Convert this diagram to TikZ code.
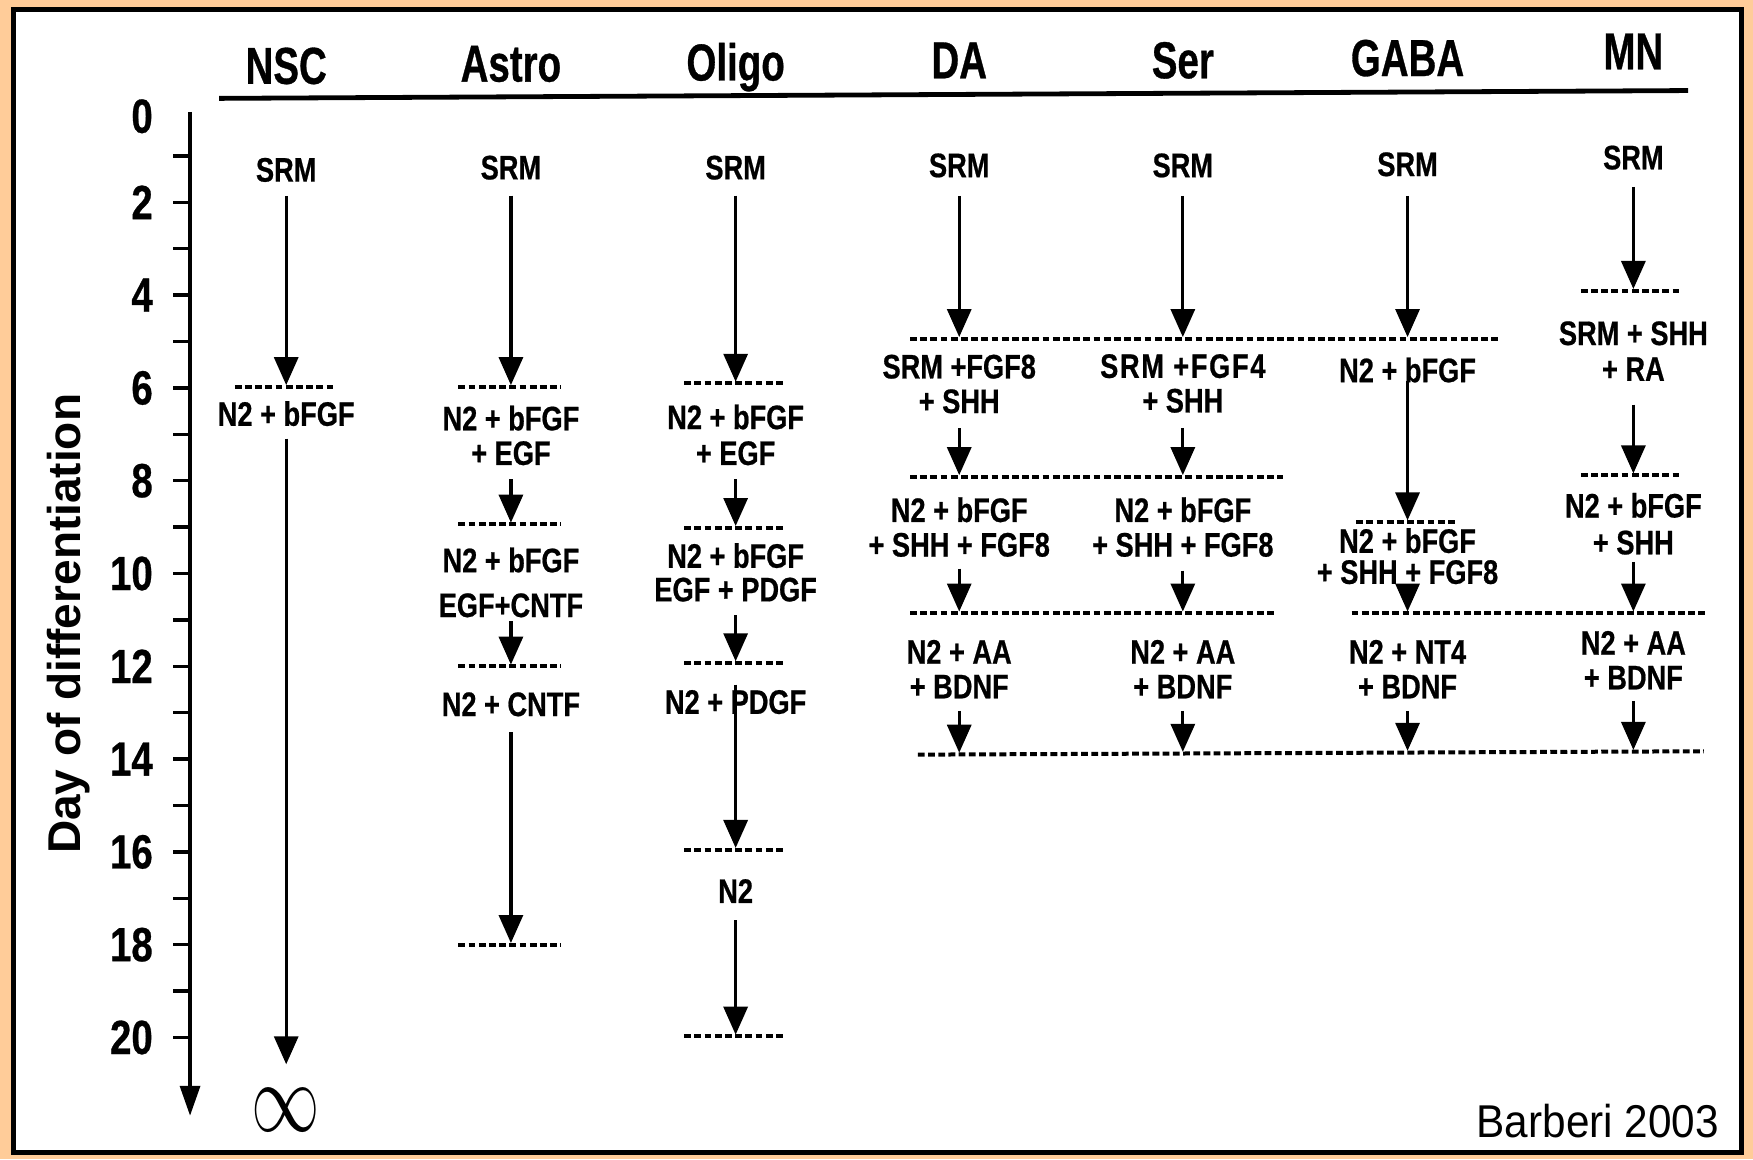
\documentclass[tikz,border=0pt]{standalone}
\usepackage{fontspec}
\setmainfont{Liberation Sans}
\newfontfamily\condb{Liberation Sans}[FakeStretch=0.8,FakeBold=0.6]
\newfontfamily\condh{Liberation Sans}[FakeStretch=0.74,FakeBold=0.6]
\newfontfamily\regn{Liberation Sans}[FakeStretch=0.92]
\usetikzlibrary{arrows.meta}
\definecolor{bgorange}{RGB}{255,204,153}
\tikzset{
  txt/.style={font=\condb\bfseries\fontsize{17}{17.3}\selectfont, inner sep=0pt, align=center},
  hdr/.style={font=\condh\bfseries\fontsize{26}{28}\selectfont, inner sep=0pt, anchor=base},
  num/.style={font=\condb\bfseries\fontsize{24}{26}\selectfont, inner sep=0pt, anchor=east},
  arr/.style={line width=1.6pt, -{Triangle[width=12pt,length=14pt]}},
  axarr/.style={line width=1.7pt, -{Triangle[width=10pt,length=15pt]}},
  dsh/.style={line width=2pt, dash pattern=on 3.4pt off 1.7pt},
  tick/.style={line width=1.7pt},
}
\begin{document}
\begin{tikzpicture}[x=0.559pt,y=-0.559pt]
\useasboundingbox (0,0) rectangle (1568,1037);
\fill[bgorange] (0,0) rectangle (1568,1037);
\draw[line width=2.6pt, fill=white] (12,8.5) rectangle (1558,1031);

% headers
\node[hdr] (hNSC) at (256,75) {NSC};
\node[hdr] (hAstro) at (457,73) {Astro};
\node[hdr] (hOligo) at (658,72) {Oligo};
\node[hdr] (hDA) at (858,70) {DA};
\node[hdr] (hSer) at (1058,70) {Ser};
\node[hdr] (hGABA) at (1259,68) {GABA};
\node[hdr] (hMN) at (1461,62) {MN};
\coordinate (hl0) at (196,88);
\coordinate (hl1) at (1510,81);
\draw[line width=2.4pt] (hl0) -- (hl1);

% axis
\coordinate (ax0) at (170,100);
\coordinate (ax1) at (170,998);
\draw[axarr] (ax0) -- (ax1);
\foreach \d in {1,...,20} \draw[tick] (155,{98+41.5*\d}) -- (170,{98+41.5*\d});
\node[num] (day0) at (137,104) {0};
\foreach \d in {2,4,...,20} \node[num] (day\d) at (137,{98+41.5*\d}) {\d};
\node[rotate=90, font=\bfseries\fontsize{23}{25}\selectfont, inner sep=0pt] (ylab) at (61,558) {Day of differentiation};

% NSC
\node[txt] (nsc0) at (256,152) {SRM};
\node[txt] (nsc1) at (256,370) {N2 + bFGF};
\node[inner sep=0pt, font=\fontsize{24.88}{26}\selectfont] (nscInf) at (256,993) {\scalebox{1.375}[2.0]{$\infty$}};
\coordinate (nscLa) at (210,346); \coordinate (nscLb) at (300,346);
\draw[dsh] (nscLa) -- (nscLb);
\coordinate (nscT1) at (256,344.5);
\coordinate (nscT2) at (256,952);
\draw[arr, shorten <=6.7pt] (nsc0) -- (nscT1);
\draw[arr, shorten <=6.1pt] (nsc1) -- (nscT2);

% Astro
\node[txt] (a0) at (457,150) {SRM};
\node[txt] (a1) at (457,389.5) {N2 + bFGF\\+ EGF};
\node[txt] (a2) at (457,521) {N2 + bFGF\\[5.1pt]EGF+CNTF};
\node[txt] (a3) at (457,630) {N2 + CNTF};
\coordinate (aL1a) at (410,346); \coordinate (aL1b) at (502,346);
\coordinate (aL2a) at (410,469); \coordinate (aL2b) at (502,469);
\coordinate (aL3a) at (410,596); \coordinate (aL3b) at (502,596);
\coordinate (aL4a) at (410,845); \coordinate (aL4b) at (502,845);
\draw[dsh] (aL1a) -- (aL1b);
\draw[dsh] (aL2a) -- (aL2b);
\draw[dsh] (aL3a) -- (aL3b);
\draw[dsh] (aL4a) -- (aL4b);
\coordinate (aT1) at (457,344.5);
\coordinate (aT2) at (457,467.5);
\coordinate (aT3) at (457,594.5);
\coordinate (aT4) at (457,843.5);
\draw[arr, shorten <=7.8pt] (a0) -- (aT1);
\draw[arr, shorten <=6.7pt] (a1) -- (aT2);
\draw[arr, shorten <=1.7pt] (a2) -- (aT3);
\draw[arr, shorten <=7.8pt] (a3) -- (aT4);

% Oligo
\node[txt] (o0) at (658,150) {SRM};
\node[txt] (o1) at (658,389) {N2 + bFGF\\[0.6pt]+ EGF};
\node[txt] (o2) at (658,512) {N2 + bFGF\\[-0.5pt]EGF + PDGF};
\node[txt] (o3) at (658,628) {N2 + PDGF};
\node[txt] (o4) at (658,797) {N2};
\coordinate (oL1a) at (612,343); \coordinate (oL1b) at (702,343);
\coordinate (oL2a) at (612,472); \coordinate (oL2b) at (702,472);
\coordinate (oL3a) at (612,593); \coordinate (oL3b) at (702,593);
\coordinate (oL4a) at (612,760); \coordinate (oL4b) at (702,760);
\coordinate (oL5a) at (612,927); \coordinate (oL5b) at (702,927);
\draw[dsh] (oL1a) -- (oL1b);
\draw[dsh] (oL2a) -- (oL2b);
\draw[dsh] (oL3a) -- (oL3b);
\draw[dsh] (oL4a) -- (oL4b);
\draw[dsh] (oL5a) -- (oL5b);
\coordinate (oT1) at (658,341.5);
\coordinate (oT2) at (658,470.5);
\coordinate (oT3) at (658,591.5);
\coordinate (oT4) at (658,758.5);
\coordinate (oT5) at (658,925.5);
\draw[arr, shorten <=7.8pt] (o0) -- (oT1);
\draw[arr, shorten <=6.7pt] (o1) -- (oT2);
\draw[arr, shorten <=6.7pt] (o2) -- (oT3);
\draw[arr, shorten <=-15pt] (o3) -- (oT4);
\draw[arr, shorten <=8.4pt] (o4) -- (oT5);

% shared dashed lines
\coordinate (sh1a) at (814,303); \coordinate (sh1b) at (1340,303);
\coordinate (sh2a) at (814,426.5); \coordinate (sh2b) at (1148,426.5);
\coordinate (sh3a) at (814,548.5); \coordinate (sh3b) at (1142,548.5);
\coordinate (sh4a) at (1209,548.5); \coordinate (sh4b) at (1527,548.5);
\coordinate (sh5a) at (821,675); \coordinate (sh5b) at (1524,672);
\draw[dsh] (sh1a) -- (sh1b);
\draw[dsh] (sh2a) -- (sh2b);
\draw[dsh] (sh3a) -- (sh3b);
\draw[dsh] (sh4a) -- (sh4b);
\draw[dsh] (sh5a) -- (sh5b);

% DA
\node[txt] (d0) at (858,148) {SRM};
\node[txt] (d1) at (858,343.5) {SRM +FGF8\\+ SHH};
\node[txt] (d2) at (858,471.5) {N2 + bFGF\\+ SHH + FGF8};
\node[txt] (d3) at (858,598.5) {N2 + AA\\+ BDNF};
\coordinate (dT1) at (858,301.5);
\coordinate (dT2) at (858,425);
\coordinate (dT3) at (858,547);
\coordinate (dT4) at (858,673.3);
\draw[arr, shorten <=9pt] (d0) -- (dT1);
\draw[arr, shorten <=7.3pt] (d1) -- (dT2);
\draw[arr, shorten <=5.6pt] (d2) -- (dT3);
\draw[arr, shorten <=6.1pt] (d3) -- (dT4);

% Ser
\node[txt] (s0) at (1058,148) {SRM};
\node[txt] (s1) at (1058,343) {\addfontfeature{LetterSpace=5}SRM +FGF4\\+ SHH};
\node[txt] (s2) at (1058,471.5) {N2 + bFGF\\+ SHH + FGF8};
\node[txt] (s3) at (1058,598.5) {N2 + AA\\+ BDNF};
\coordinate (sT1) at (1058,301.5);
\coordinate (sT2) at (1058,425);
\coordinate (sT3) at (1058,547);
\coordinate (sT4) at (1058,672.5);
\draw[arr, shorten <=9pt] (s0) -- (sT1);
\draw[arr, shorten <=7.3pt] (s1) -- (sT2);
\draw[arr, shorten <=6.7pt] (s2) -- (sT3);
\draw[arr, shorten <=6.1pt] (s3) -- (sT4);

% GABA
\node[txt] (g0) at (1259,147) {SRM};
\node[txt] (g1) at (1259,331) {N2 + bFGF};
\node[txt] (g2) at (1259,497.5) {N2 + bFGF\\[-1.8pt]+ SHH + FGF8};
\node[txt] (g3) at (1259,598.5) {N2 + NT4\\+ BDNF};
\coordinate (gLa) at (1213,467); \coordinate (gLb) at (1304,467);
\draw[dsh] (gLa) -- (gLb);
\coordinate (gT1) at (1259,301.5);
\coordinate (gT2) at (1259,465.5);
\coordinate (gT3) at (1259,547);
\coordinate (gT4) at (1259,671.6);
\draw[arr, shorten <=9.5pt] (g0) -- (gT1);
\draw[arr, shorten <=-1.1pt] (g1) -- (gT2);
\draw[arr, shorten <=-2.8pt] (g2) -- (gT3);
\draw[arr, shorten <=6.1pt] (g3) -- (gT4);

% MN
\node[txt] (m0) at (1461,141) {SRM};
\node[txt] (m1) at (1461,314) {SRM + SHH\\[0.6pt]+ RA};
\node[txt] (m2) at (1461,468.5) {N2 + bFGF\\[1.1pt]+ SHH};
\node[txt] (m3) at (1461,590.5) {N2 + AA\\+ BDNF};
\coordinate (mL1a) at (1414,260); \coordinate (mL1b) at (1503,260);
\coordinate (mL2a) at (1414,425); \coordinate (mL2b) at (1503,425);
\draw[dsh] (mL1a) -- (mL1b);
\draw[dsh] (mL2a) -- (mL2b);
\coordinate (mT1) at (1461,258.5);
\coordinate (mT2) at (1461,423.5);
\coordinate (mT3) at (1461,547);
\coordinate (mT4) at (1461,670.8);
\draw[arr, shorten <=8.4pt] (m0) -- (mT1);
\draw[arr, shorten <=11.7pt] (m1) -- (mT2);
\draw[arr, shorten <=3.4pt] (m2) -- (mT3);
\draw[arr, shorten <=5.6pt] (m3) -- (mT4);

% citation
\node[anchor=east, inner sep=0pt, font=\regn\fontsize{23}{25}\selectfont] (cite) at (1538,1003) {Barberi 2003};
\end{tikzpicture}
\end{document}
